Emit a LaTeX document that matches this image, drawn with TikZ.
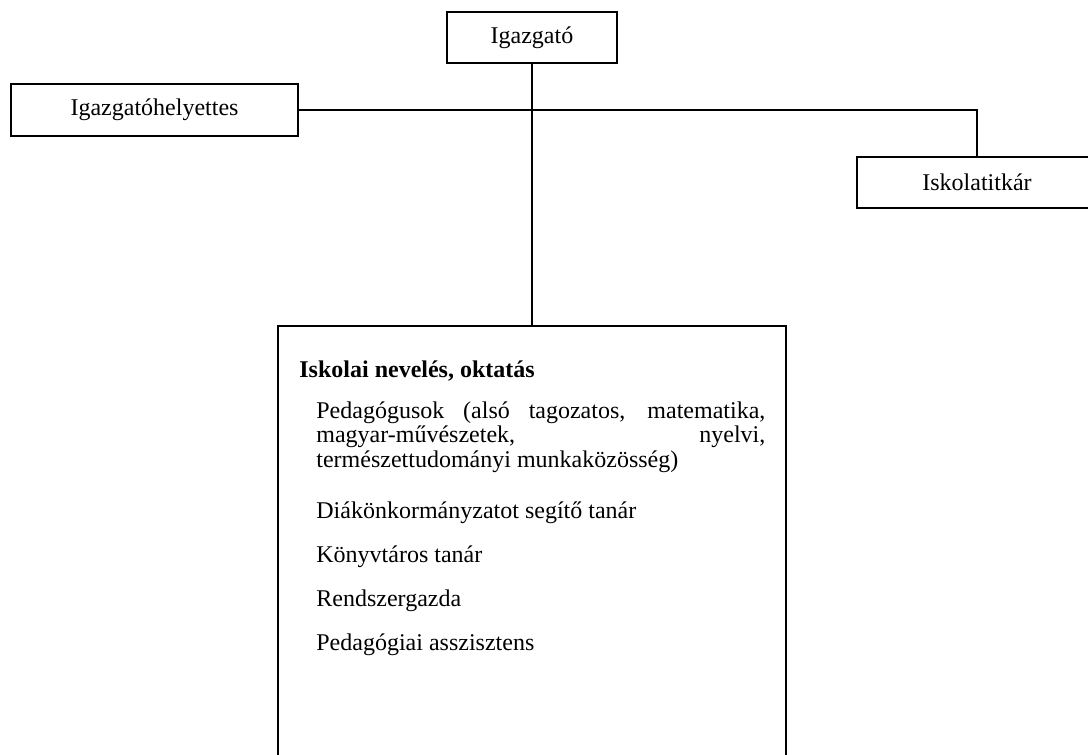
\documentclass[tikz,border=0pt]{standalone}
\usepackage{fontspec}
\setmainfont{Liberation Serif}
\tikzset{
  doboz/.style={draw, line width=1pt, inner sep=0pt, font=\rmfamily\fontsize{12}{12.25}\selectfont},
  vonal/.style={line width=0.75pt},
  szoveg/.style={anchor=base west, inner sep=0pt, font=\rmfamily\fontsize{12}{12.25}\selectfont},
}
\begin{document}
\begin{tikzpicture}[x=0.5pt, y=-0.5pt]
  \useasboundingbox (0,0) rectangle (1088,755);
  \clip (0,0) rectangle (1088,755);
  % Vezetés
  \node[doboz, minimum width=85pt, minimum height=25.5pt] (igazgato) at (532,37.5) {Igazgató};
  \node[doboz, minimum width=143.5pt, minimum height=26pt] (helyettes) at (154.5,110) {Igazgatóhelyettes};
  \node[doboz, minimum width=120pt, minimum height=25.5pt] (titkar) at (977,182.5) {Iskolatitkár};
  % Nevelés, oktatás
  \node[doboz, minimum width=254pt, minimum height=220pt] (oktatas) at (532,546) {};
  \node[szoveg] (cim) at (299,377) {\bfseries Iskolai nevelés, oktatás};
  \node[szoveg, text width=224.5pt, align=justify] (pedagogusok) at (316,418)
    {\rmfamily Pedagógusok (alsó tagozatos, matematika,\linebreak magyar-művészetek, nyelvi,\linebreak természettudományi munkaközösség)};
  \node[szoveg] (dok) at (316,518) {Diákönkormányzatot segítő tanár};
  \node[szoveg] (konyvtaros) at (316,562) {Könyvtáros tanár};
  \node[szoveg] (rendszergazda) at (316,606) {Rendszergazda};
  \node[szoveg] (asszisztens) at (316,650) {Pedagógiai asszisztens};
  % Vonalak
  \draw[vonal] (igazgato.south) -- (oktatas.north);
  \draw[vonal] (helyettes.east) -| (titkar.north);
\end{tikzpicture}
\end{document}
